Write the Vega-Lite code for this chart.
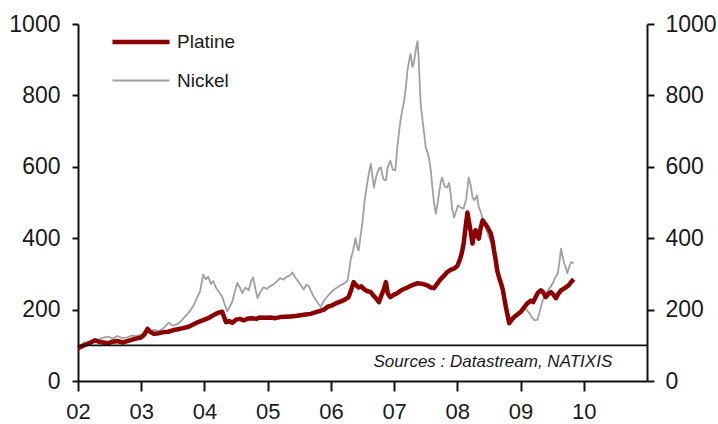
{
  "$schema": "https://vega.github.io/schema/vega-lite/v6.json",
  "width": 569,
  "height": 357,
  "padding": {"left": 78, "top": 24, "right": 71, "bottom": 43},
  "autosize": {"type": "none"},
  "background": "white",
  "config": {
    "view": {"stroke": null},
    "font": "Liberation Sans",
    "axis": {"grid": false, "domain": true, "domainColor": "#111", "domainWidth": 2, "tickColor": "#111", "tickWidth": 2, "labelColor": "#1a1a1a", "labelFontSize": 23, "labelFont": "Liberation Sans", "title": null}
  },
  "datasets": {
    "prices": [
      {"t": 2002.00, "series": "Nickel", "v": 95},
      {"t": 2002.05, "series": "Nickel", "v": 102},
      {"t": 2002.10, "series": "Nickel", "v": 108},
      {"t": 2002.15, "series": "Nickel", "v": 104},
      {"t": 2002.20, "series": "Nickel", "v": 112},
      {"t": 2002.27, "series": "Nickel", "v": 110},
      {"t": 2002.35, "series": "Nickel", "v": 118},
      {"t": 2002.42, "series": "Nickel", "v": 122},
      {"t": 2002.48, "series": "Nickel", "v": 124},
      {"t": 2002.55, "series": "Nickel", "v": 118},
      {"t": 2002.62, "series": "Nickel", "v": 126},
      {"t": 2002.70, "series": "Nickel", "v": 120},
      {"t": 2002.78, "series": "Nickel", "v": 122},
      {"t": 2002.85, "series": "Nickel", "v": 127},
      {"t": 2002.92, "series": "Nickel", "v": 126},
      {"t": 2003.00, "series": "Nickel", "v": 130},
      {"t": 2003.05, "series": "Nickel", "v": 138},
      {"t": 2003.10, "series": "Nickel", "v": 150},
      {"t": 2003.15, "series": "Nickel", "v": 140},
      {"t": 2003.20, "series": "Nickel", "v": 143},
      {"t": 2003.28, "series": "Nickel", "v": 140},
      {"t": 2003.35, "series": "Nickel", "v": 148},
      {"t": 2003.43, "series": "Nickel", "v": 163},
      {"t": 2003.50, "series": "Nickel", "v": 155},
      {"t": 2003.58, "series": "Nickel", "v": 160},
      {"t": 2003.65, "series": "Nickel", "v": 172},
      {"t": 2003.72, "series": "Nickel", "v": 186},
      {"t": 2003.78, "series": "Nickel", "v": 198},
      {"t": 2003.83, "series": "Nickel", "v": 212},
      {"t": 2003.88, "series": "Nickel", "v": 232},
      {"t": 2003.93, "series": "Nickel", "v": 250},
      {"t": 2003.98, "series": "Nickel", "v": 298},
      {"t": 2004.02, "series": "Nickel", "v": 285},
      {"t": 2004.06, "series": "Nickel", "v": 292},
      {"t": 2004.10, "series": "Nickel", "v": 272},
      {"t": 2004.14, "series": "Nickel", "v": 280},
      {"t": 2004.18, "series": "Nickel", "v": 262},
      {"t": 2004.22, "series": "Nickel", "v": 252},
      {"t": 2004.28, "series": "Nickel", "v": 236},
      {"t": 2004.32, "series": "Nickel", "v": 215},
      {"t": 2004.36, "series": "Nickel", "v": 195},
      {"t": 2004.40, "series": "Nickel", "v": 208},
      {"t": 2004.44, "series": "Nickel", "v": 222},
      {"t": 2004.48, "series": "Nickel", "v": 250},
      {"t": 2004.52, "series": "Nickel", "v": 275},
      {"t": 2004.56, "series": "Nickel", "v": 262},
      {"t": 2004.60, "series": "Nickel", "v": 246},
      {"t": 2004.65, "series": "Nickel", "v": 262},
      {"t": 2004.70, "series": "Nickel", "v": 254},
      {"t": 2004.74, "series": "Nickel", "v": 280},
      {"t": 2004.77, "series": "Nickel", "v": 290},
      {"t": 2004.81, "series": "Nickel", "v": 255},
      {"t": 2004.84, "series": "Nickel", "v": 232},
      {"t": 2004.88, "series": "Nickel", "v": 248},
      {"t": 2004.93, "series": "Nickel", "v": 262},
      {"t": 2004.99, "series": "Nickel", "v": 258},
      {"t": 2005.04, "series": "Nickel", "v": 266},
      {"t": 2005.09, "series": "Nickel", "v": 270},
      {"t": 2005.14, "series": "Nickel", "v": 278},
      {"t": 2005.20, "series": "Nickel", "v": 288},
      {"t": 2005.25, "series": "Nickel", "v": 284},
      {"t": 2005.30, "series": "Nickel", "v": 292},
      {"t": 2005.35, "series": "Nickel", "v": 296},
      {"t": 2005.39, "series": "Nickel", "v": 304},
      {"t": 2005.43, "series": "Nickel", "v": 292},
      {"t": 2005.47, "series": "Nickel", "v": 282},
      {"t": 2005.52, "series": "Nickel", "v": 270},
      {"t": 2005.57, "series": "Nickel", "v": 256},
      {"t": 2005.61, "series": "Nickel", "v": 270},
      {"t": 2005.65, "series": "Nickel", "v": 266},
      {"t": 2005.69, "series": "Nickel", "v": 250},
      {"t": 2005.73, "series": "Nickel", "v": 236},
      {"t": 2005.78, "series": "Nickel", "v": 222},
      {"t": 2005.84, "series": "Nickel", "v": 207},
      {"t": 2005.88, "series": "Nickel", "v": 222},
      {"t": 2005.94, "series": "Nickel", "v": 236},
      {"t": 2006.00, "series": "Nickel", "v": 248},
      {"t": 2006.05, "series": "Nickel", "v": 256},
      {"t": 2006.10, "series": "Nickel", "v": 262},
      {"t": 2006.15, "series": "Nickel", "v": 268},
      {"t": 2006.20, "series": "Nickel", "v": 272},
      {"t": 2006.26, "series": "Nickel", "v": 280},
      {"t": 2006.29, "series": "Nickel", "v": 310},
      {"t": 2006.31, "series": "Nickel", "v": 338},
      {"t": 2006.35, "series": "Nickel", "v": 365},
      {"t": 2006.39, "series": "Nickel", "v": 400},
      {"t": 2006.42, "series": "Nickel", "v": 372},
      {"t": 2006.44, "series": "Nickel", "v": 366},
      {"t": 2006.48, "series": "Nickel", "v": 420},
      {"t": 2006.50, "series": "Nickel", "v": 445},
      {"t": 2006.53, "series": "Nickel", "v": 500},
      {"t": 2006.55, "series": "Nickel", "v": 525},
      {"t": 2006.58, "series": "Nickel", "v": 560},
      {"t": 2006.61, "series": "Nickel", "v": 590},
      {"t": 2006.63, "series": "Nickel", "v": 608},
      {"t": 2006.66, "series": "Nickel", "v": 570},
      {"t": 2006.68, "series": "Nickel", "v": 542},
      {"t": 2006.72, "series": "Nickel", "v": 575},
      {"t": 2006.76, "series": "Nickel", "v": 595},
      {"t": 2006.79, "series": "Nickel", "v": 598},
      {"t": 2006.83, "series": "Nickel", "v": 565},
      {"t": 2006.87, "series": "Nickel", "v": 562},
      {"t": 2006.90, "series": "Nickel", "v": 600},
      {"t": 2006.94, "series": "Nickel", "v": 617},
      {"t": 2006.98, "series": "Nickel", "v": 592},
      {"t": 2007.02, "series": "Nickel", "v": 590},
      {"t": 2007.05, "series": "Nickel", "v": 654},
      {"t": 2007.08, "series": "Nickel", "v": 700},
      {"t": 2007.10, "series": "Nickel", "v": 729},
      {"t": 2007.13, "series": "Nickel", "v": 760},
      {"t": 2007.16, "series": "Nickel", "v": 785},
      {"t": 2007.19, "series": "Nickel", "v": 830},
      {"t": 2007.21, "series": "Nickel", "v": 869},
      {"t": 2007.24, "series": "Nickel", "v": 900},
      {"t": 2007.26, "series": "Nickel", "v": 916},
      {"t": 2007.29, "series": "Nickel", "v": 880},
      {"t": 2007.31, "series": "Nickel", "v": 888},
      {"t": 2007.34, "series": "Nickel", "v": 925},
      {"t": 2007.37, "series": "Nickel", "v": 952},
      {"t": 2007.39, "series": "Nickel", "v": 897},
      {"t": 2007.42, "series": "Nickel", "v": 776},
      {"t": 2007.45, "series": "Nickel", "v": 730},
      {"t": 2007.47, "series": "Nickel", "v": 701},
      {"t": 2007.50, "series": "Nickel", "v": 654},
      {"t": 2007.53, "series": "Nickel", "v": 640},
      {"t": 2007.55, "series": "Nickel", "v": 626},
      {"t": 2007.58, "series": "Nickel", "v": 590},
      {"t": 2007.60, "series": "Nickel", "v": 553},
      {"t": 2007.63, "series": "Nickel", "v": 500},
      {"t": 2007.66, "series": "Nickel", "v": 469},
      {"t": 2007.69, "series": "Nickel", "v": 500},
      {"t": 2007.71, "series": "Nickel", "v": 525},
      {"t": 2007.74, "series": "Nickel", "v": 560},
      {"t": 2007.76, "series": "Nickel", "v": 570},
      {"t": 2007.80, "series": "Nickel", "v": 545},
      {"t": 2007.84, "series": "Nickel", "v": 542},
      {"t": 2007.87, "series": "Nickel", "v": 555},
      {"t": 2007.89, "series": "Nickel", "v": 530},
      {"t": 2007.92, "series": "Nickel", "v": 480},
      {"t": 2007.95, "series": "Nickel", "v": 458},
      {"t": 2007.98, "series": "Nickel", "v": 475},
      {"t": 2008.01, "series": "Nickel", "v": 492},
      {"t": 2008.05, "series": "Nickel", "v": 486},
      {"t": 2008.10, "series": "Nickel", "v": 483},
      {"t": 2008.14, "series": "Nickel", "v": 510},
      {"t": 2008.18, "series": "Nickel", "v": 570},
      {"t": 2008.21, "series": "Nickel", "v": 550},
      {"t": 2008.24, "series": "Nickel", "v": 514},
      {"t": 2008.27, "series": "Nickel", "v": 506},
      {"t": 2008.31, "series": "Nickel", "v": 520},
      {"t": 2008.34, "series": "Nickel", "v": 486},
      {"t": 2008.37, "series": "Nickel", "v": 475},
      {"t": 2008.40, "series": "Nickel", "v": 455},
      {"t": 2008.45, "series": "Nickel", "v": 430},
      {"t": 2008.50, "series": "Nickel", "v": 402},
      {"t": 2008.54, "series": "Nickel", "v": 385},
      {"t": 2008.58, "series": "Nickel", "v": 366},
      {"t": 2008.63, "series": "Nickel", "v": 318},
      {"t": 2008.66, "series": "Nickel", "v": 295},
      {"t": 2008.69, "series": "Nickel", "v": 274},
      {"t": 2008.73, "series": "Nickel", "v": 245},
      {"t": 2008.77, "series": "Nickel", "v": 218},
      {"t": 2008.80, "series": "Nickel", "v": 190},
      {"t": 2008.82, "series": "Nickel", "v": 170},
      {"t": 2008.86, "series": "Nickel", "v": 176},
      {"t": 2008.90, "series": "Nickel", "v": 179},
      {"t": 2008.94, "series": "Nickel", "v": 185},
      {"t": 2008.98, "series": "Nickel", "v": 190},
      {"t": 2009.02, "series": "Nickel", "v": 200},
      {"t": 2009.06, "series": "Nickel", "v": 207},
      {"t": 2009.10, "series": "Nickel", "v": 198},
      {"t": 2009.14, "series": "Nickel", "v": 190},
      {"t": 2009.18, "series": "Nickel", "v": 178},
      {"t": 2009.22, "series": "Nickel", "v": 170},
      {"t": 2009.27, "series": "Nickel", "v": 172},
      {"t": 2009.31, "series": "Nickel", "v": 200},
      {"t": 2009.35, "series": "Nickel", "v": 226},
      {"t": 2009.39, "series": "Nickel", "v": 240},
      {"t": 2009.43, "series": "Nickel", "v": 254},
      {"t": 2009.47, "series": "Nickel", "v": 262},
      {"t": 2009.51, "series": "Nickel", "v": 274},
      {"t": 2009.55, "series": "Nickel", "v": 290},
      {"t": 2009.59, "series": "Nickel", "v": 302},
      {"t": 2009.62, "series": "Nickel", "v": 340},
      {"t": 2009.64, "series": "Nickel", "v": 371},
      {"t": 2009.67, "series": "Nickel", "v": 345},
      {"t": 2009.69, "series": "Nickel", "v": 330},
      {"t": 2009.72, "series": "Nickel", "v": 315},
      {"t": 2009.74, "series": "Nickel", "v": 302},
      {"t": 2009.77, "series": "Nickel", "v": 320},
      {"t": 2009.80, "series": "Nickel", "v": 333},
      {"t": 2009.84, "series": "Nickel", "v": 330},
      {"t": 2002.00, "series": "Platine", "v": 92},
      {"t": 2002.05, "series": "Platine", "v": 96},
      {"t": 2002.10, "series": "Platine", "v": 100},
      {"t": 2002.15, "series": "Platine", "v": 104},
      {"t": 2002.20, "series": "Platine", "v": 108},
      {"t": 2002.27, "series": "Platine", "v": 114},
      {"t": 2002.33, "series": "Platine", "v": 110},
      {"t": 2002.40, "series": "Platine", "v": 108},
      {"t": 2002.48, "series": "Platine", "v": 106},
      {"t": 2002.55, "series": "Platine", "v": 110},
      {"t": 2002.62, "series": "Platine", "v": 112},
      {"t": 2002.70, "series": "Platine", "v": 108},
      {"t": 2002.75, "series": "Platine", "v": 110},
      {"t": 2002.82, "series": "Platine", "v": 114},
      {"t": 2002.90, "series": "Platine", "v": 118},
      {"t": 2003.00, "series": "Platine", "v": 122},
      {"t": 2003.05, "series": "Platine", "v": 130},
      {"t": 2003.10, "series": "Platine", "v": 146},
      {"t": 2003.14, "series": "Platine", "v": 138},
      {"t": 2003.20, "series": "Platine", "v": 132},
      {"t": 2003.28, "series": "Platine", "v": 134},
      {"t": 2003.36, "series": "Platine", "v": 137},
      {"t": 2003.43, "series": "Platine", "v": 138},
      {"t": 2003.50, "series": "Platine", "v": 142},
      {"t": 2003.58, "series": "Platine", "v": 145},
      {"t": 2003.66, "series": "Platine", "v": 148},
      {"t": 2003.75, "series": "Platine", "v": 152},
      {"t": 2003.82, "series": "Platine", "v": 158},
      {"t": 2003.90, "series": "Platine", "v": 165},
      {"t": 2003.97, "series": "Platine", "v": 170},
      {"t": 2004.06, "series": "Platine", "v": 176},
      {"t": 2004.12, "series": "Platine", "v": 182},
      {"t": 2004.18, "series": "Platine", "v": 188},
      {"t": 2004.23, "series": "Platine", "v": 192},
      {"t": 2004.28, "series": "Platine", "v": 194},
      {"t": 2004.31, "series": "Platine", "v": 180},
      {"t": 2004.34, "series": "Platine", "v": 165},
      {"t": 2004.39, "series": "Platine", "v": 168},
      {"t": 2004.44, "series": "Platine", "v": 163},
      {"t": 2004.50, "series": "Platine", "v": 172},
      {"t": 2004.56, "series": "Platine", "v": 174},
      {"t": 2004.62, "series": "Platine", "v": 170},
      {"t": 2004.69, "series": "Platine", "v": 175},
      {"t": 2004.75, "series": "Platine", "v": 176},
      {"t": 2004.82, "series": "Platine", "v": 174},
      {"t": 2004.88, "series": "Platine", "v": 178},
      {"t": 2004.96, "series": "Platine", "v": 177},
      {"t": 2005.05, "series": "Platine", "v": 178},
      {"t": 2005.12, "series": "Platine", "v": 176},
      {"t": 2005.20, "series": "Platine", "v": 179},
      {"t": 2005.28, "series": "Platine", "v": 180},
      {"t": 2005.36, "series": "Platine", "v": 181},
      {"t": 2005.44, "series": "Platine", "v": 182},
      {"t": 2005.52, "series": "Platine", "v": 184},
      {"t": 2005.60, "series": "Platine", "v": 186},
      {"t": 2005.68, "series": "Platine", "v": 188},
      {"t": 2005.75, "series": "Platine", "v": 192},
      {"t": 2005.82, "series": "Platine", "v": 196},
      {"t": 2005.89, "series": "Platine", "v": 200},
      {"t": 2005.95, "series": "Platine", "v": 208},
      {"t": 2006.02, "series": "Platine", "v": 212},
      {"t": 2006.08, "series": "Platine", "v": 218},
      {"t": 2006.15, "series": "Platine", "v": 222},
      {"t": 2006.22, "series": "Platine", "v": 228},
      {"t": 2006.28, "series": "Platine", "v": 235},
      {"t": 2006.32, "series": "Platine", "v": 255},
      {"t": 2006.36, "series": "Platine", "v": 277},
      {"t": 2006.40, "series": "Platine", "v": 268},
      {"t": 2006.44, "series": "Platine", "v": 262},
      {"t": 2006.48, "series": "Platine", "v": 265},
      {"t": 2006.52, "series": "Platine", "v": 258},
      {"t": 2006.57, "series": "Platine", "v": 252},
      {"t": 2006.63, "series": "Platine", "v": 249},
      {"t": 2006.68, "series": "Platine", "v": 238},
      {"t": 2006.73, "series": "Platine", "v": 228},
      {"t": 2006.76, "series": "Platine", "v": 221},
      {"t": 2006.80, "series": "Platine", "v": 240},
      {"t": 2006.84, "series": "Platine", "v": 258},
      {"t": 2006.87, "series": "Platine", "v": 277},
      {"t": 2006.90, "series": "Platine", "v": 245},
      {"t": 2006.94, "series": "Platine", "v": 235},
      {"t": 2007.00, "series": "Platine", "v": 242},
      {"t": 2007.05, "series": "Platine", "v": 246},
      {"t": 2007.12, "series": "Platine", "v": 255},
      {"t": 2007.21, "series": "Platine", "v": 262},
      {"t": 2007.28, "series": "Platine", "v": 268},
      {"t": 2007.37, "series": "Platine", "v": 274},
      {"t": 2007.45, "series": "Platine", "v": 272},
      {"t": 2007.52, "series": "Platine", "v": 268},
      {"t": 2007.58, "series": "Platine", "v": 262},
      {"t": 2007.63, "series": "Platine", "v": 260},
      {"t": 2007.68, "series": "Platine", "v": 272},
      {"t": 2007.73, "series": "Platine", "v": 284},
      {"t": 2007.79, "series": "Platine", "v": 295},
      {"t": 2007.84, "series": "Platine", "v": 305},
      {"t": 2007.90, "series": "Platine", "v": 312},
      {"t": 2007.95, "series": "Platine", "v": 315},
      {"t": 2008.00, "series": "Platine", "v": 322},
      {"t": 2008.04, "series": "Platine", "v": 340},
      {"t": 2008.07, "series": "Platine", "v": 358},
      {"t": 2008.10, "series": "Platine", "v": 385},
      {"t": 2008.13, "series": "Platine", "v": 430},
      {"t": 2008.16, "series": "Platine", "v": 472},
      {"t": 2008.18, "series": "Platine", "v": 450},
      {"t": 2008.21, "series": "Platine", "v": 420},
      {"t": 2008.24, "series": "Platine", "v": 385},
      {"t": 2008.27, "series": "Platine", "v": 415},
      {"t": 2008.29, "series": "Platine", "v": 422},
      {"t": 2008.32, "series": "Platine", "v": 405},
      {"t": 2008.34, "series": "Platine", "v": 399},
      {"t": 2008.37, "series": "Platine", "v": 430},
      {"t": 2008.40, "series": "Platine", "v": 450},
      {"t": 2008.44, "series": "Platine", "v": 440},
      {"t": 2008.48, "series": "Platine", "v": 430},
      {"t": 2008.53, "series": "Platine", "v": 413},
      {"t": 2008.56, "series": "Platine", "v": 390},
      {"t": 2008.58, "series": "Platine", "v": 366},
      {"t": 2008.61, "series": "Platine", "v": 335},
      {"t": 2008.63, "series": "Platine", "v": 310},
      {"t": 2008.66, "series": "Platine", "v": 290},
      {"t": 2008.69, "series": "Platine", "v": 274},
      {"t": 2008.72, "series": "Platine", "v": 255},
      {"t": 2008.74, "series": "Platine", "v": 235},
      {"t": 2008.77, "series": "Platine", "v": 205},
      {"t": 2008.80, "series": "Platine", "v": 180},
      {"t": 2008.82, "series": "Platine", "v": 162},
      {"t": 2008.86, "series": "Platine", "v": 172},
      {"t": 2008.90, "series": "Platine", "v": 179},
      {"t": 2008.95, "series": "Platine", "v": 186},
      {"t": 2009.00, "series": "Platine", "v": 193},
      {"t": 2009.05, "series": "Platine", "v": 205},
      {"t": 2009.11, "series": "Platine", "v": 218},
      {"t": 2009.16, "series": "Platine", "v": 225},
      {"t": 2009.20, "series": "Platine", "v": 221},
      {"t": 2009.24, "series": "Platine", "v": 235},
      {"t": 2009.27, "series": "Platine", "v": 246},
      {"t": 2009.32, "series": "Platine", "v": 254},
      {"t": 2009.36, "series": "Platine", "v": 248},
      {"t": 2009.40, "series": "Platine", "v": 235},
      {"t": 2009.44, "series": "Platine", "v": 244},
      {"t": 2009.48, "series": "Platine", "v": 249},
      {"t": 2009.52, "series": "Platine", "v": 242},
      {"t": 2009.56, "series": "Platine", "v": 232},
      {"t": 2009.60, "series": "Platine", "v": 245},
      {"t": 2009.64, "series": "Platine", "v": 254},
      {"t": 2009.68, "series": "Platine", "v": 258},
      {"t": 2009.72, "series": "Platine", "v": 263},
      {"t": 2009.76, "series": "Platine", "v": 268},
      {"t": 2009.80, "series": "Platine", "v": 277},
      {"t": 2009.84, "series": "Platine", "v": 285}
    ]
  },
  "layer": [
    {
      "data": {"name": "prices"},
      "mark": {"type": "line", "strokeJoin": "round", "strokeCap": "butt"},
      "encoding": {
        "x": {
          "field": "t", "type": "quantitative",
          "scale": {"domain": [2002, 2011], "nice": false, "zero": false},
          "axis": {"domain": true, "values": [2002, 2003, 2004, 2005, 2006, 2007, 2008, 2009, 2010], "labelExpr": "substring(format(datum.value, 'd'), 2)", "tickSize": 10, "labelPadding": 10, "labelFontSize": 22, "labelFlush": false, "labelOverlap": false}
        },
        "y": {
          "field": "v", "type": "quantitative",
          "scale": {"domain": [0, 1000], "nice": false},
          "axis": {"domain": true, "orient": "left", "values": [0, 200, 400, 600, 800, 1000], "format": "d", "tickSize": 6, "labelPadding": 12}
        },
        "color": {
          "field": "series", "type": "nominal",
          "scale": {"domain": ["Platine", "Nickel"], "range": ["#8b0000", "#a0a0a0"]},
          "legend": {
            "title": null, "orient": "none", "legendX": 51, "legendY": 6, "padding": 0,
            "symbolType": "M-3,0H3", "symbolSize": 361, "labelOffset": 24, "rowPadding": 18,
            "labelFontSize": 19, "labelColor": "#1a1a1a", "labelFont": "Liberation Sans",
            "encode": {"symbols": {"update": {"strokeWidth": {"signal": "datum.value === 'Platine' ? 5 : 1.8"}}}}
          }
        },
        "strokeWidth": {
          "field": "series", "type": "nominal",
          "scale": {"domain": ["Platine", "Nickel"], "range": [4.5, 1.8]},
          "legend": null
        }
      }
    },
    {
      "data": {"values": [{}]},
      "mark": {"type": "rule", "color": "#111", "strokeWidth": 1.8},
      "encoding": {
        "y": {
          "datum": 100, "type": "quantitative",
          "scale": {"domain": [0, 1000], "nice": false},
          "axis": {"domain": true, "orient": "right", "values": [0, 200, 400, 600, 800, 1000], "format": "d", "tickSize": 7, "labelPadding": 11, "title": null}
        }
      }
    },
    {
      "data": {"values": [{}]},
      "mark": {"type": "text", "align": "right", "baseline": "middle", "fontStyle": "italic", "fontSize": 17, "font": "Liberation Sans", "color": "#1a1a1a"},
      "encoding": {
        "x": {"datum": 2010.45, "type": "quantitative"},
        "y": {"datum": 53, "type": "quantitative", "scale": {"domain": [0, 1000], "nice": false}, "axis": null},
        "text": {"value": "Sources : Datastream, NATIXIS"}
      }
    }
  ],
  "resolve": {"scale": {"y": "independent"}, "axis": {"y": "independent"}}
}
